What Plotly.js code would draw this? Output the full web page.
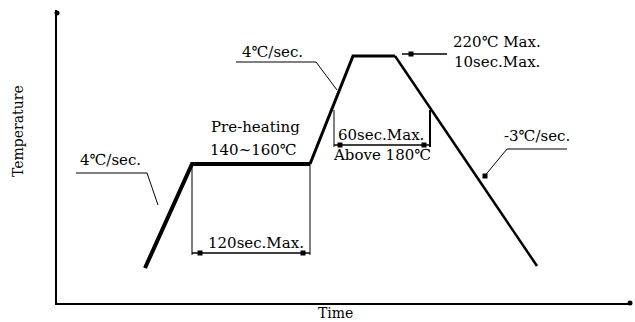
<!DOCTYPE html>
<html>
<head>
<meta charset="utf-8">
<script src="https://cdn.plot.ly/plotly-3.0.1.min.js"></script>
<style>
  html, body { margin: 0; padding: 0; background: #fff; }
  #plot { width: 635px; height: 322px; }
</style>
</head>
<body>
<div id="plot"></div>
<script>
// reflow profile (schematic units: time / temperature)
var time = [88, 135, 253, 296, 338, 480];
var temp = [35, 139, 139, 247, 247, 37];

// leader lines for the slope labels
var leadLeftX = [19, 90, 101];
var leadLeftY = [130, 130, 98];
var leadRampX = [179, 259, 280];
var leadRampY = [241, 241, 213];
var leadCoolX = [510, 450, 426];
var leadCoolY = [154, 154, 125];
var leadPeakX = [345, 390];
var leadPeakY = [249, 249];

// dimension marks
var soakX = [135, 253];
var soakTop = 139, soakBottom = 48, soakArrowY = 50;
var reflowX = [277, 373];
var reflowTop = 193, reflowBottom = 156, reflowArrowY = 158;

var labels = [
  { x: 53,  y: 143, text: "4℃/sec." },
  { x: 215, y: 251, text: "4℃/sec." },
  { x: 198, y: 176, text: "Pre-heating" },
  { x: 196, y: 153, text: "140~160℃" },
  { x: 199, y: 60,  text: "120sec.Max." },
  { x: 324, y: 168, text: "60sec.Max." },
  { x: 325, y: 148, text: "Above 180℃" },
  { x: 440, y: 261, text: "220℃ Max." },
  { x: 440, y: 241, text: "10sec.Max." },
  { x: 480, y: 167, text: "-3℃/sec." }
];

var serif = "DejaVu Serif, Liberation Serif, serif";

function seg(i0, i1, w) {
  return {
    x: time.slice(i0, i1 + 1),
    y: temp.slice(i0, i1 + 1),
    mode: "lines",
    type: "scatter",
    line: { color: "black", width: w },
    hoverinfo: "skip"
  };
}

function thin(xs, ys, w) {
  return {
    x: xs, y: ys,
    mode: "lines",
    type: "scatter",
    line: { color: "black", width: w || 1 },
    hoverinfo: "skip"
  };
}

var data = [
  seg(0, 2, 4),   // heating + soak
  seg(2, 4, 3),   // ramp + peak
  seg(4, 5, 2.5), // cooling
  thin(leadLeftX, leadLeftY),
  thin(leadRampX, leadRampY),
  thin(leadCoolX, leadCoolY),
  thin(leadPeakX, leadPeakY, 1.5),
  thin([soakX[0], soakX[0]], [soakTop, soakBottom]),
  thin([soakX[1], soakX[1]], [soakTop, soakBottom]),
  thin(soakX, [soakArrowY, soakArrowY], 1.5),
  thin([reflowX[0], reflowX[0]], [reflowTop, reflowBottom]),
  thin([reflowX[1], reflowX[1]], [reflowTop, reflowBottom], 2),
  thin(reflowX, [reflowArrowY, reflowArrowY], 1.5),
  // axis tips
  { x: [0, 573], y: [290, 0], mode: "markers", type: "scatter", cliponaxis: false,
    marker: { color: "black", size: 5, symbol: "circle" }, hoverinfo: "skip" },
  // arrow tips on dimension and leader lines
  { x: [soakX[0] + 8, soakX[1] - 7, reflowX[0] + 6, reflowX[1] - 6, 354, 428],
    y: [soakArrowY, soakArrowY, reflowArrowY, reflowArrowY, 249, 127],
    mode: "markers", type: "scatter",
    marker: { color: "black", size: 5, symbol: "square" }, hoverinfo: "skip" }
];

var annotations = labels.map(function (l) {
  return {
    x: l.x, y: l.y, xref: "x", yref: "y", text: l.text, showarrow: false,
    font: { family: serif, size: 15, color: "black" }
  };
});

// axis titles
annotations.push({
  x: 0, y: 0.587, xref: "paper", yref: "paper", xshift: -39, xanchor: "center",
  yanchor: "middle", text: "Temperature", textangle: -90, showarrow: false,
  font: { family: serif, size: 14, color: "black" }
});
annotations.push({
  x: 0.485, y: 0, xref: "paper", yref: "paper", yshift: -10, xanchor: "center",
  yanchor: "middle", text: "Time", showarrow: false,
  font: { family: serif, size: 14, color: "black" }
});

var layout = {
  width: 635,
  height: 322,
  margin: { l: 57, r: 3, t: 10, b: 19 },
  showlegend: false,
  paper_bgcolor: "white",
  plot_bgcolor: "white",
  xaxis: {
    range: [0, 575], showgrid: false, zeroline: false, showticklabels: false,
    ticks: "", showline: true, linecolor: "black", linewidth: 2, fixedrange: true
  },
  yaxis: {
    range: [0, 293], showgrid: false, zeroline: false, showticklabels: false,
    ticks: "", showline: true, linecolor: "black", linewidth: 2, fixedrange: true
  },
  annotations: annotations
};

Plotly.newPlot("plot", data, layout, { displayModeBar: false, staticPlot: true });
</script>
</body>
</html>
